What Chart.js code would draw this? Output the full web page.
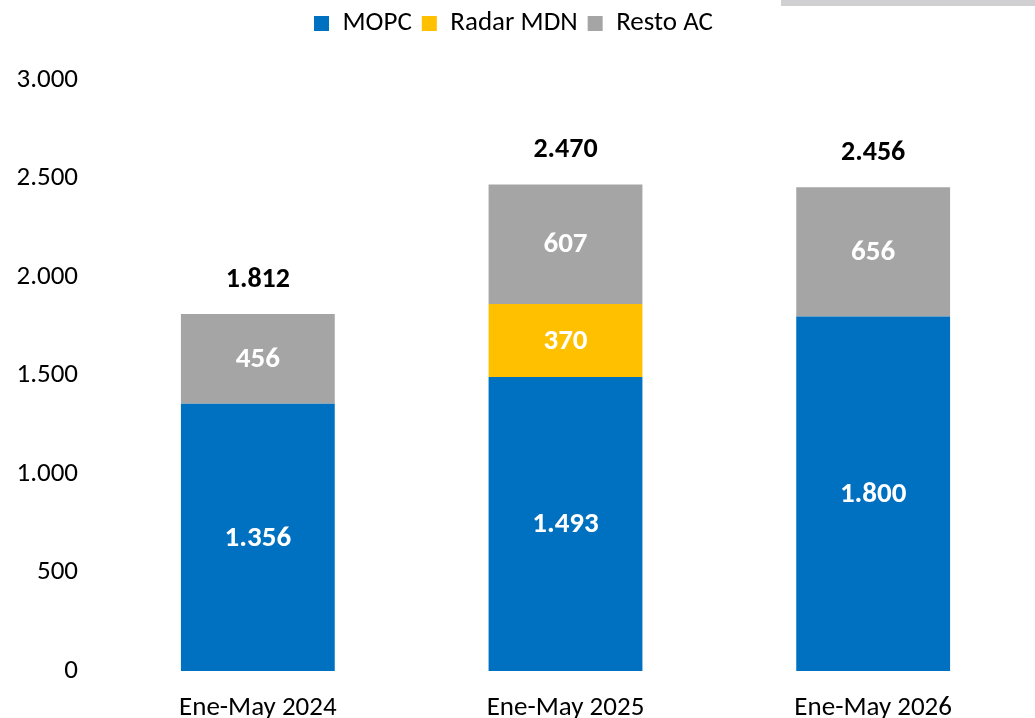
<!DOCTYPE html>
<html>
<head>
<meta charset="utf-8">
<script src="https://cdn.jsdelivr.net/npm/chart.js@4"></script>
<style>
  html, body { margin: 0; padding: 0; background: #fff; }
  #wrap { position: relative; width: 1035px; height: 718px; }
  #franja { position: absolute; left: 781px; top: 0; width: 254px; height: 6px; background: #d0cfd1; }
</style>
</head>
<body>
<div id="wrap">
  <canvas id="grafico" width="1035" height="718"></canvas>
  <div id="franja"></div>
</div>
<script>
// Datos
const periodos = ['Ene-May 2024', 'Ene-May 2025', 'Ene-May 2026'];
const mopc = [1356, 1493, 1800];
const radarMdn = [0, 370, 0];
const restoAc = [456, 607, 656];
const totales = [1812, 2470, 2456];

const FUENTE = 'Carlito, Lato, "Liberation Sans", sans-serif';

// formato con punto de miles
function miles(v) {
  return String(v).replace(/\B(?=(\d{3})+(?!\d))/g, '.');
}

// etiquetas dentro de las barras y totales arriba
const etiquetasPlugin = {
  id: 'etiquetas',
  afterDatasetsDraw(chart) {
    const ctx = chart.ctx;
    ctx.save();
    ctx.textAlign = 'center';
    ctx.textBaseline = 'middle';
    ctx.font = 'bold 29px ' + FUENTE;
    ctx.fillStyle = '#ffffff';
    chart.data.datasets.forEach((ds, i) => {
      const meta = chart.getDatasetMeta(i);
      meta.data.forEach((bar, j) => {
        const v = ds.data[j];
        if (!v) return;
        const y = (bar.y + bar.base) / 2;
        ctx.fillText(miles(v), bar.x, y + 1);
      });
    });
    // totales
    ctx.font = 'bold 28px ' + FUENTE;
    ctx.fillStyle = '#000000';
    const yScale = chart.scales.y;
    const metaBase = chart.getDatasetMeta(0);
    totales.forEach((t, j) => {
      const x = metaBase.data[j].x;
      const y = yScale.getPixelForValue(t) - 34;
      ctx.fillText(miles(t), x, y);
    });
    ctx.restore();
  }
};

new Chart(document.getElementById('grafico'), {
  type: 'bar',
  data: {
    labels: periodos,
    datasets: [
      { label: 'MOPC', data: mopc, backgroundColor: '#0070C0' },
      { label: 'Radar MDN', data: radarMdn, backgroundColor: '#FFC000' },
      { label: 'Resto AC', data: restoAc, backgroundColor: '#A5A5A5' }
    ]
  },
  options: {
    responsive: false,
    animation: false,
    layout: { padding: { top: 0, right: 8, left: 0, bottom: 0 } },
    datasets: {
      bar: { categoryPercentage: 1, barPercentage: 0.5 }
    },
    scales: {
      x: {
        stacked: true,
        grid: { display: false, drawTicks: false },
        border: { display: false },
        ticks: { color: '#000', font: { family: FUENTE, size: 27 }, padding: 21 },
        afterFit(scale) { scale.height = 47; }
      },
      y: {
        stacked: true,
        min: 0,
        max: 3000,
        grid: { display: false, drawTicks: false },
        border: { display: false },
        ticks: {
          stepSize: 500,
          color: '#000',
          font: { family: FUENTE, size: 27 },
          padding: 26,
          callback: v => miles(v)
        },
        afterFit(scale) { scale.width = 104; }
      }
    },
    plugins: {
      legend: {
        position: 'top',
        weight: 3000,
        labels: {
          color: '#000',
          font: { family: FUENTE, size: 27 },
          boxWidth: 15,
          boxHeight: 15,
          padding: 10
        }
      },
      // espacio en blanco entre la leyenda y el área del gráfico
      subtitle: {
        display: true,
        text: ' ',
        font: { size: 10 },
        padding: { top: 10, bottom: 11 }
      },
      tooltip: { enabled: false }
    }
  },
  plugins: [etiquetasPlugin]
});
</script>
</body>
</html>
